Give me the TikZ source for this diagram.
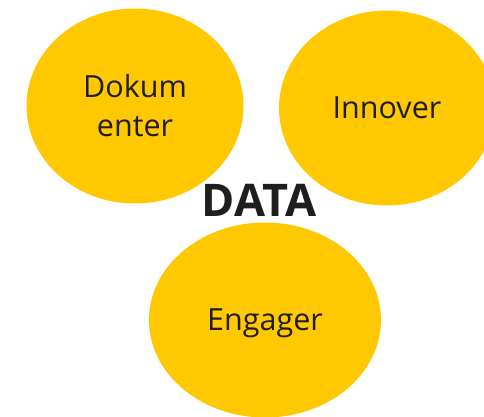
\documentclass[tikz,border=0pt]{standalone}
\usepackage{fontspec}
\setmainfont{Open Sans}
\usetikzlibrary{shapes.geometric}
\definecolor{gold}{RGB}{255,200,0}
\definecolor{ink}{RGB}{30,30,30}
\tikzset{
	bubble/.style={ellipse, fill=gold, inner sep=0pt, text=ink, align=center,
		font=\fontsize{30.5}{39}\selectfont, text depth=.05em},
}
\begin{document}
\begin{tikzpicture}[x=1pt, y=-1pt]
		\useasboundingbox (0, 0) rectangle (484, 417);
		\node [bubble, minimum width=217, minimum height=195] (dok) at (135, 106) {Dokum\\enter};
		\node [bubble, minimum width=216, minimum height=195] (inn) at (387, 108) {Innover};
		\node [bubble, minimum width=232, minimum height=195] (eng) at (265, 320) {Engager};
		\node [text=ink, font=\fontsize{45}{52}\selectfont\bfseries] (data) at (259, 200) {DATA};
	\end{tikzpicture}
\end{document}
